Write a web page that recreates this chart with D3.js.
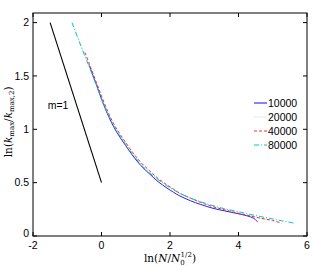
<!DOCTYPE html>
<html>
<head>
<meta charset="utf-8">
<script src="https://cdn.jsdelivr.net/npm/d3@7"></script>
<style>
body { margin: 0; background: #fff; }
text { font-family: "Liberation Sans", Arial, sans-serif; }
.lab { font-family: "DejaVu Serif", "Liberation Serif", serif; }
</style>
</head>
<body>
<script>
var xTicks = [-2, 0, 2, 4, 6];
var yTicks = [0, 0.5, 1, 1.5, 2];
var yTickLabels = ["0", "0.5", "1", "1.5", "2"];

var names = ["10000", "20000", "40000", "80000"];
var colors = ["#2222ee", "#e4f0e4", "#ff2a2a", "#00c8c8"];
var dashes = [null, null, "3,2", "5,2,1,2"];

// N = 10000
var x10 = [-0.36, -0.15, 0.04, 0.25, 0.45, 0.7, 0.92, 1.15, 1.41, 1.65, 1.91, 2.1, 2.29, 2.6, 2.9, 3.25, 3.6, 3.9, 4.24, 4.45, 4.56];
var y10 = [1.6, 1.42, 1.25, 1.09, 0.97, 0.85, 0.75, 0.66, 0.58, 0.51, 0.45, 0.41, 0.375, 0.33, 0.295, 0.26, 0.235, 0.215, 0.19, 0.165, 0.13];
// N = 20000
var x20 = [-0.86, -0.6, -0.34, -0.15, 0.04, 0.25, 0.45, 0.7, 0.92, 1.15, 1.41, 1.65, 1.91, 2.1, 2.29, 2.6, 2.9, 3.25, 3.6, 3.9, 4.24, 4.6, 4.9];
var y20 = [2.0, 1.79, 1.58, 1.42, 1.26, 1.11, 0.99, 0.87, 0.77, 0.68, 0.6, 0.53, 0.47, 0.43, 0.395, 0.35, 0.315, 0.28, 0.25, 0.225, 0.2, 0.17, 0.14];
// N = 40000
var x40 = [-0.48, -0.34, -0.15, 0.04, 0.25, 0.45, 0.7, 0.92, 1.15, 1.41, 1.65, 1.91, 2.1, 2.29, 2.6, 2.9, 3.25, 3.6, 3.9, 4.24, 4.6, 5.0, 5.26];
var y40 = [1.72, 1.6, 1.44, 1.28, 1.12, 1.0, 0.88, 0.78, 0.69, 0.61, 0.54, 0.48, 0.44, 0.4, 0.355, 0.315, 0.275, 0.245, 0.22, 0.195, 0.17, 0.145, 0.12];
// N = 80000
var x80 = [-0.86, -0.6, -0.34, -0.15, 0.04, 0.25, 0.45, 0.7, 0.92, 1.15, 1.41, 1.65, 1.91, 2.1, 2.29, 2.6, 2.9, 3.25, 3.6, 3.9, 4.24, 4.6, 5.0, 5.3, 5.64];
var y80 = [2.0, 1.78, 1.57, 1.41, 1.25, 1.1, 0.98, 0.86, 0.76, 0.67, 0.59, 0.53, 0.47, 0.435, 0.4, 0.355, 0.32, 0.285, 0.255, 0.235, 0.21, 0.185, 0.16, 0.14, 0.12];

var mx = [-1.5, 0];
var my = [2, 0.5];

var seriesX = [x10, x20, x40, x80];
var seriesY = [y10, y20, y40, y80];

var margin = {top: 13, right: 7, bottom: 30, left: 33},
  width = 314 - margin.left - margin.right,
  height = 266 - margin.top - margin.bottom;

var x = d3.scaleLinear().domain([-2, 6]).range([0, width]);
var y = d3.scaleLinear().domain([0, 2.09]).range([height, 0]);

var svg = d3.select("body").append("svg")
  .attr("width", 314)
  .attr("height", 266)
  .append("g")
  .attr("transform", "translate(" + margin.left + "," + margin.top + ")");

var line = d3.line()
  .x(function(d) { return x(d[0]); })
  .y(function(d) { return y(d[1]); });

var smooth = d3.line()
  .curve(d3.curveCatmullRom)
  .x(function(d) { return x(d[0]); })
  .y(function(d) { return y(d[1]); });

// slope guide
svg.append("path")
  .datum(d3.zip(mx, my))
  .attr("d", line)
  .attr("fill", "none")
  .attr("stroke", "#000")
  .attr("stroke-width", 1.1);

svg.append("text")
  .attr("x", x(-1.57))
  .attr("y", y(1.19))
  .attr("font-size", "10.5px")
  .text("m=1");

// draw light series first
[1, 0, 2, 3].forEach(function(i) {
  svg.append("path")
    .datum(d3.zip(seriesX[i], seriesY[i]))
    .attr("d", smooth)
    .attr("fill", "none")
    .attr("stroke", colors[i])
    .attr("stroke-width", 1)
    .attr("stroke-dasharray", dashes[i]);
});

// frame
svg.append("rect")
  .attr("width", width)
  .attr("height", height)
  .attr("fill", "none")
  .attr("stroke", "#000")
  .attr("stroke-width", 1);

var tl = 4;
xTicks.forEach(function(t) {
  svg.append("line").attr("x1", x(t)).attr("x2", x(t))
    .attr("y1", height).attr("y2", height - tl).attr("stroke", "#000");
  svg.append("line").attr("x1", x(t)).attr("x2", x(t))
    .attr("y1", 0).attr("y2", tl).attr("stroke", "#000");
  svg.append("text")
    .attr("x", x(t))
    .attr("y", height + 13)
    .attr("text-anchor", "middle")
    .attr("font-size", "10.5px")
    .text(t);
});

yTicks.forEach(function(t, i) {
  svg.append("line").attr("x1", 0).attr("x2", tl)
    .attr("y1", y(t)).attr("y2", y(t)).attr("stroke", "#000");
  svg.append("line").attr("x1", width).attr("x2", width - tl)
    .attr("y1", y(t)).attr("y2", y(t)).attr("stroke", "#000");
  svg.append("text")
    .attr("x", -4)
    .attr("y", y(t) - (t === 0 ? 3 : 0))
    .attr("dy", ".35em")
    .attr("text-anchor", "end")
    .attr("font-size", "10.5px")
    .text(yTickLabels[i]);
});

// legend
var lg = svg.append("g").attr("transform", "translate(" + (254 - margin.left) + "," + (103 - margin.top) + ")");
names.forEach(function(n, i) {
  lg.append("line")
    .attr("x1", 0).attr("x2", 13)
    .attr("y1", i * 14).attr("y2", i * 14)
    .attr("stroke", colors[i])
    .attr("stroke-width", 1.1)
    .attr("stroke-dasharray", dashes[i]);
  lg.append("text")
    .attr("x", 14)
    .attr("y", i * 14)
    .attr("dy", ".35em")
    .attr("font-size", "10.5px")
    .text(n);
});

// axis labels
var xl = svg.append("text")
  .attr("class", "lab")
  .attr("x", x(2))
  .attr("y", height + 26)
  .attr("text-anchor", "middle")
  .attr("font-size", "10.5px");
xl.append("tspan").text("ln(");
xl.append("tspan").attr("font-style", "italic").text("N");
xl.append("tspan").text("/");
xl.append("tspan").attr("font-style", "italic").text("N");
xl.append("tspan").attr("font-size", "7px").attr("dy", 3).text("0");
xl.append("tspan").attr("font-size", "7px").attr("dy", -8).attr("dx", -4).text("1/2");
xl.append("tspan").attr("dy", 5).text(")");

var yl = svg.append("text")
  .attr("class", "lab")
  .attr("transform", "translate(" + (-21) + "," + (y(1.07)) + ") rotate(-90)")
  .attr("text-anchor", "middle")
  .attr("font-size", "10.5px");
yl.append("tspan").text("ln(");
yl.append("tspan").attr("font-style", "italic").text("k");
yl.append("tspan").attr("font-size", "7px").attr("dy", 2).text("max");
yl.append("tspan").attr("dy", -2).text("/");
yl.append("tspan").attr("font-style", "italic").text("k");
yl.append("tspan").attr("font-size", "7px").attr("dy", 2).text("max,2");
yl.append("tspan").attr("dy", -2).text(")");
</script>
</body>
</html>
